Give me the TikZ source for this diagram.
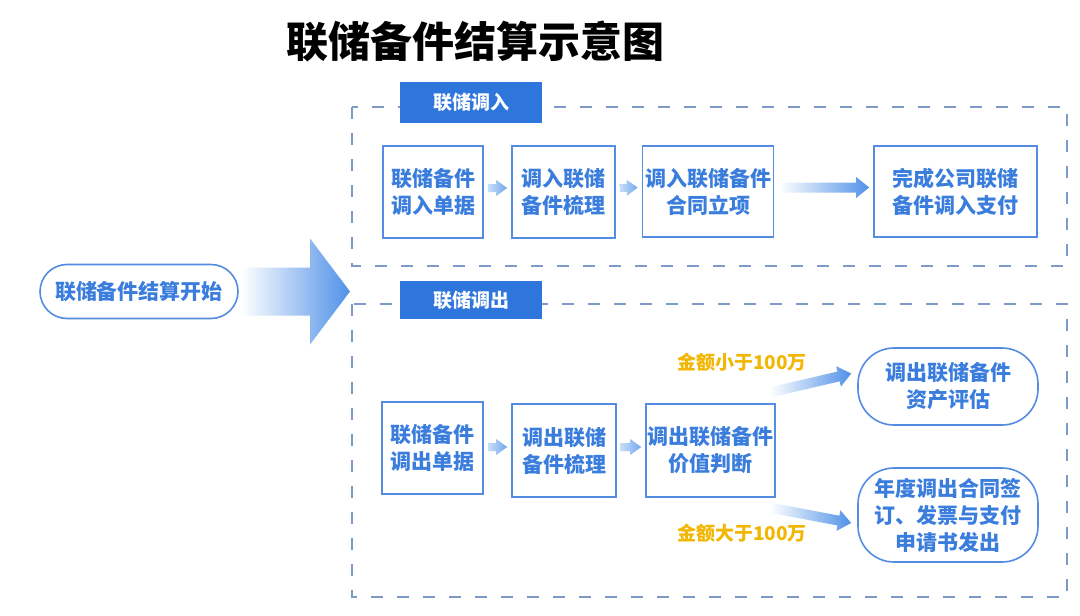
\documentclass[tikz,border=0pt]{standalone}
\usepackage{fontspec}
\setmainfont{Noto Sans CJK SC}[BoldFont=* Black]
\usetikzlibrary{calc,shapes.misc}
\definecolor{mainblue}{RGB}{46,117,220}
\definecolor{txtblue}{RGB}{58,125,221}
\definecolor{borderblue}{RGB}{84,140,226}
\definecolor{dashcol}{RGB}{125,155,198}
\definecolor{gold}{RGB}{242,183,5}
\definecolor{arrlight}{RGB}{200,222,248}
\definecolor{arrdark}{RGB}{80,145,232}
\newcommand\fatarrow[7]{% start, end, shaft half, head half, head length, colour 1, colour 2
  \coordinate (fa-h) at ($(#2)!#5!(#1)$);
  \shade[left color=#6,right color=#7]
    ($(#1)!#3!90:(#2)$) -- ($(fa-h)!#3!-90:(#1)$) -- ($(fa-h)!#4!-90:(#1)$) -- (#2)
    -- ($(fa-h)!#4!90:(#1)$) -- ($(fa-h)!#3!90:(#1)$) -- ($(#1)!#3!-90:(#2)$) -- cycle;
}
\begin{document}
\begin{tikzpicture}[x=1pt,y=-1pt,
  stepbox/.style={draw=borderblue,line width=1.6pt,text=txtblue,font=\bfseries\fontsize{21}{27}\selectfont,align=center,inner sep=0pt},
  ovalbox/.style={stepbox,rounded corners=36pt},
  tagbox/.style={fill=mainblue,text=white,font=\bfseries\fontsize{19}{22}\selectfont,minimum width=142pt,inner sep=0pt},
  dashbox/.style={draw=dashcol,line width=1.6pt,dash pattern=on 12pt off 14pt},
  goldtext/.style={text=gold,font=\bfseries\fontsize{19}{22}\selectfont}]
\useasboundingbox[fill=white] (0,0) rectangle (1080,616);

\node[font=\bfseries\fontsize{42}{46}\selectfont] (title) at (475.5,42) {联储备件结算示意图};

% dashed frames
\draw[dashbox] (352,107) rectangle (1067,266);
\draw[dashbox] (352,304) rectangle (1067,597);
\node[tagbox,minimum height=41pt] (tagin) at (471,102.5) {联储调入};
\node[tagbox,minimum height=38pt] (tagout) at (471,300) {联储调出};

% start
\node[draw=borderblue,line width=1.6pt,text=txtblue,font=\bfseries\fontsize{21}{27}\selectfont,
  rounded rectangle,minimum width=198pt,minimum height=54pt,inner sep=0pt] (start) at (139,291.5) {联储备件结算开始};

% upper row
\node[stepbox,minimum width=100pt,minimum height=92pt] (u1) at (433,192) {联储备件\\调入单据};
\node[stepbox,minimum width=103pt,minimum height=92pt] (u2) at (563.5,192) {调入联储\\备件梳理};
\node[stepbox,minimum width=131pt,minimum height=91pt] (u3) at (708,191.5) {调入联储备件\\合同立项};
\node[stepbox,minimum width=163pt,minimum height=91pt] (u4) at (955.5,191.5) {完成公司联储\\备件调入支付};

% lower row
\node[stepbox,minimum width=101pt,minimum height=92pt] (l1) at (432.5,448) {联储备件\\调出单据};
\node[stepbox,minimum width=104pt,minimum height=93pt] (l2) at (564,450.5) {调出联储\\备件梳理};
\node[stepbox,minimum width=129pt,minimum height=93pt] (l3) at (710.5,450.5) {调出联储备件\\价值判断};
\node[ovalbox,minimum width=180pt,minimum height=77pt] (o1) at (948,386.5) {调出联储备件\\资产评估};
\node[ovalbox,minimum width=180pt,minimum height=94pt] (o2) at (948,515) {年度调出合同签\\订、发票与支付\\申请书发出};

\node[goldtext] (lt) at (742,362) {金额小于100万};
\node[goldtext] (gt) at (742,533) {金额大于100万};

% big arrow
\coordinate (bigs) at ($(start.east)+(2,0)$);
\coordinate (bigt) at (350,291.5);
\fatarrow{bigs}{bigt}{24pt}{53pt}{40pt}{white}{arrdark}

% small arrows upper
\coordinate (a1s) at ($(u1.east)+(4,-4)$); \coordinate (a1t) at ($(u2.west)+(-4,-4)$);
\fatarrow{a1s}{a1t}{4pt}{8pt}{11pt}{arrlight}{arrdark!80}
\coordinate (a2s) at ($(u2.east)+(4,-4)$); \coordinate (a2t) at ($(u3.west)+(-4,-4)$);
\fatarrow{a2s}{a2t}{4pt}{8pt}{11pt}{arrlight}{arrdark!80}
\coordinate (a3s) at ($(u3.east)+(5,-4)$); \coordinate (a3t) at ($(u4.west)+(-4,-4)$);
\fatarrow{a3s}{a3t}{5pt}{10.5pt}{13pt}{white}{arrdark}

% small arrows lower
\coordinate (b1s) at ($(l1.east)+(4,-1)$); \coordinate (b1t) at ($(l2.west)+(-4,-3.5)$);
\fatarrow{b1s}{b1t}{4pt}{8pt}{11pt}{arrlight}{arrdark!80}
\coordinate (b2s) at ($(l2.east)+(3,-3.5)$); \coordinate (b2t) at ($(l3.west)+(-4,-3.5)$);
\fatarrow{b2s}{b2t}{4pt}{8pt}{11pt}{arrlight}{arrdark!80}

% diagonal arrows
\coordinate (c1s) at ($(l3.north east)+(-5,-11)$); \coordinate (c1t) at ($(o1.west)+(-6,-13)$);
\fatarrow{c1s}{c1t}{5pt}{10.5pt}{13pt}{white}{arrdark}
\coordinate (c2s) at ($(l3.south east)+(-5,10)$); \coordinate (c2t) at ($(o2.west)+(-6,8)$);
\fatarrow{c2s}{c2t}{5pt}{10.5pt}{13pt}{white}{arrdark}
\end{tikzpicture}
\end{document}
